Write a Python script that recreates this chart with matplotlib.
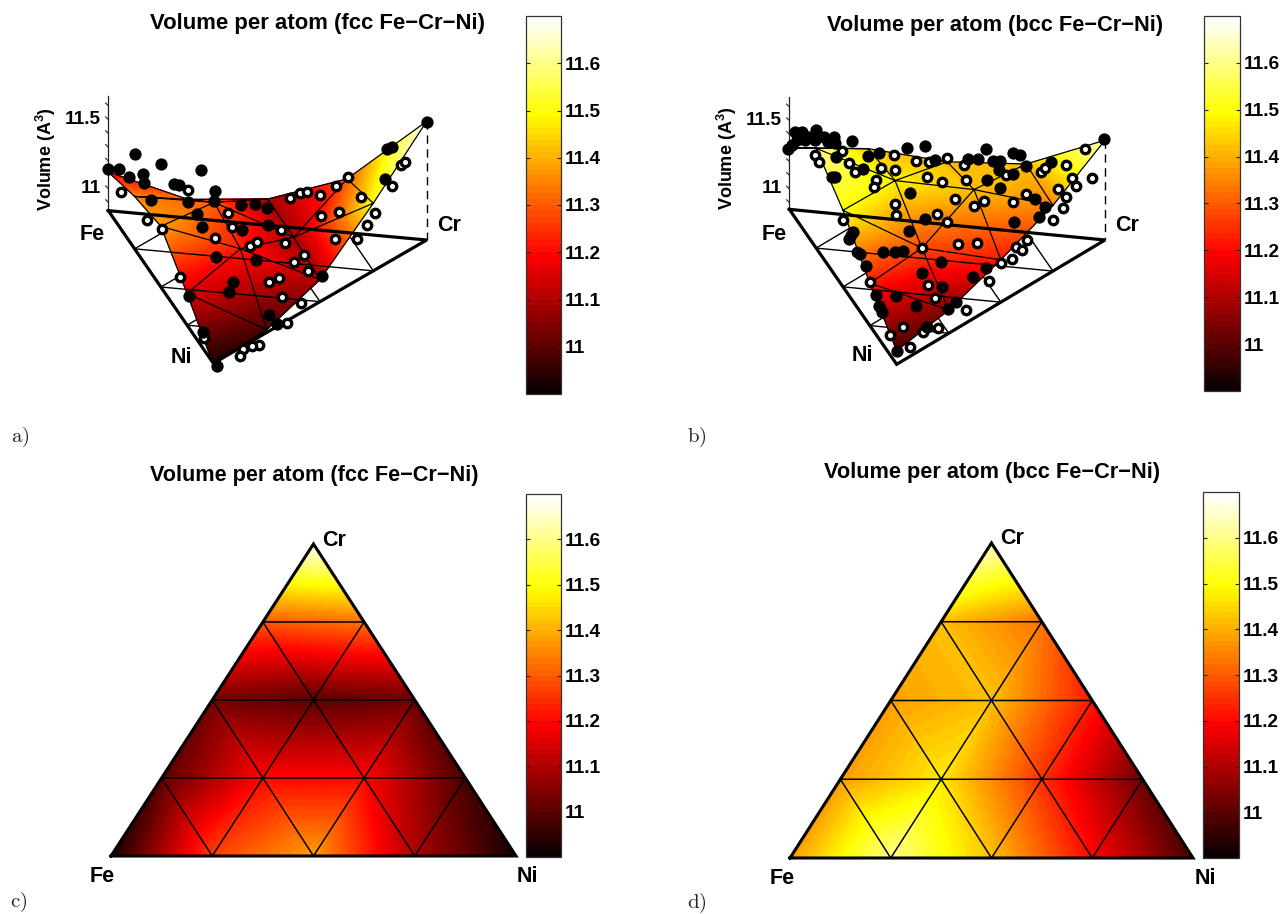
import numpy as np
import matplotlib
matplotlib.use("Agg")
import matplotlib.pyplot as plt
import matplotlib.tri as mtri
from matplotlib.cm import ScalarMappable
from matplotlib.colors import Normalize

plt.rcParams['font.family'] = ['Liberation Sans', 'DejaVu Sans']
plt.rcParams['mathtext.fontset'] = 'custom'
plt.rcParams['mathtext.bf'] = 'Liberation Sans:bold'
plt.rcParams['mathtext.rm'] = 'Liberation Sans:bold'

W, H = 1286, 914
VMIN, VMAX = 10.9, 11.7
TICKS = [11, 11.1, 11.2, 11.3, 11.4, 11.5, 11.6]
TICKLABELS = ['11', '11.1', '11.2', '11.3', '11.4', '11.5', '11.6']
TITLE_FCC = 'Volume per atom (fcc Fe\u2212Cr\u2212Ni)'
TITLE_BCC = 'Volume per atom (bcc Fe\u2212Cr\u2212Ni)'

# Node values, rows of constant Cr (0, 25, 50, 75, 100 %), going Fe -> Ni in each row
a_height = [11.12, 11.22, 11.28, 11.07, 10.83,
            10.975, 11.23, 11.17, 10.86,
            11.03, 11.03, 11.00,
            11.23, 11.33,
            11.70]
a_colour = [11.20, 11.35, 11.38, 11.15, 10.92,
            11.32, 11.30, 11.22, 10.98,
            11.08, 11.10, 11.10,
            11.30, 11.50,
            11.69]
b_height = [11.30, 11.58, 11.41, 11.16, 10.95,
            11.35, 11.40, 11.19, 11.02,
            11.31, 11.39, 11.16,
            11.35, 11.33,
            11.58]
b_colour = [11.42, 11.60, 11.50, 11.22, 10.98,
            11.42, 11.48, 11.28, 11.05,
            11.42, 11.42, 11.22,
            11.42, 11.35,
            11.65]
c_values = [10.92, 11.27, 11.38, 11.10, 10.92,
            11.00, 11.20, 11.20, 10.98,
            11.03, 11.00, 11.02,
            11.30, 11.33,
            11.69]
d_values = [11.38, 11.60, 11.42, 11.20, 10.98,
            11.38, 11.47, 11.25, 11.02,
            11.38, 11.42, 11.22,
            11.42, 11.33,
            11.65]

# Scatter points as read in the projected view of each 3D panel
a_filled_x = [323, 358, 388, 404, 429, 431, 483, 454, 522, 537, 604, 565, 645, 642, 591, 605, 722, 764, 801, 805, 726, 647, 767, 700, 687, 568, 965, 808, 830, 610, 650, 1280, 1162, 1176, 1155]
a_filled_y = [266, 266, 291, 222, 283, 310, 252, 360, 311, 316, 269, 366, 333, 362, 402, 440, 374, 371, 385, 436, 449, 530, 541, 606, 637, 648, 587, 704, 731, 757, 858, 125, 207, 200, 297]
a_open_x = [363, 563, 442, 485, 685, 697, 646, 751, 772, 843, 856, 911, 882, 925, 1004, 1072, 963, 1017, 961, 871, 899, 922, 1007, 1043, 1083, 1125, 1101, 1176, 1203, 1215, 541, 806, 837, 847, 903, 862, 777, 755, 728, 720, 612]
a_open_y = [337, 331, 419, 447, 398, 440, 473, 497, 485, 450, 490, 524, 545, 574, 477, 476, 409, 396, 344, 355, 339, 336, 317, 292, 350, 398, 435, 317, 256, 245, 592, 606, 595, 651, 668, 730, 796, 798, 808, 827, 775]
b_filled_x = [265, 285, 305, 325, 347, 372, 403, 455, 290, 315, 345, 385, 405, 275, 622, 674, 857, 940, 960, 505, 538, 407, 705, 805, 835, 880, 900, 978, 1054, 1213, 490, 395, 405, 898, 940, 860, 900, 1006, 1035, 1018, 941, 630, 675, 626, 460, 447, 480, 548, 585, 608, 722, 498, 665, 858, 820, 725, 527, 588, 648, 537, 547, 768, 745, 680, 592]
b_filled_y = [208, 155, 155, 170, 150, 172, 172, 183, 180, 180, 180, 185, 188, 195, 204, 198, 206, 220, 225, 227, 220, 232, 240, 238, 236, 243, 243, 257, 245, 178, 268, 290, 292, 270, 283, 300, 325, 356, 382, 410, 427, 339, 417, 453, 455, 477, 522, 516, 517, 513, 545, 558, 578, 565, 592, 620, 645, 647, 679, 677, 695, 666, 687, 740, 814]
b_open_x = [427, 346, 356, 447, 465, 543, 583, 584, 647, 686, 740, 793, 681, 725, 527, 523, 797, 918, 1023, 1035, 1097, 1155, 1115, 1175, 1127, 1075, 1097, 1090, 978, 938, 853, 822, 765, 585, 587, 710, 742, 428, 1058, 453, 470, 665, 775, 830, 980, 947, 965, 936, 903, 510, 685, 868, 705, 797, 608, 569, 668, 714, 630]
b_open_y = [213, 226, 245, 248, 276, 263, 226, 271, 242, 247, 234, 256, 291, 305, 300, 320, 301, 285, 277, 265, 255, 208, 295, 295, 317, 327, 350, 383, 343, 367, 364, 378, 357, 372, 406, 402, 425, 420, 420, 465, 515, 505, 491, 490, 481, 502, 510, 538, 548, 606, 614, 603, 655, 689, 742, 765, 757, 744, 800]


def px_axes(x0, y0, x1, y1):
    """Axes covering a rectangle given in reference pixels (y downwards)."""
    return fig.add_axes([x0 / W, 1 - y1 / H, (x1 - x0) / W, (y1 - y0) / H])


def ternary_mesh():
    cr, ni = [], []
    index = {}
    k = 0
    for r in range(5):
        for i in range(5 - r):
            cr.append(r / 4)
            ni.append(i / 4)
            index[(r, i)] = k
            k += 1
    tris = []
    for r in range(4):
        for i in range(4 - r):
            tris.append((index[(r, i)], index[(r, i + 1)], index[(r + 1, i)]))
            if i < 3 - r:
                tris.append((index[(r, i + 1)], index[(r + 1, i + 1)], index[(r + 1, i)]))
    return np.array(cr), np.array(ni), np.array(tris)


CR, NI, TRIS = ternary_mesh()
FE = 1 - CR - NI
CMAP = plt.get_cmap('hot', 64)
NORM = Normalize(VMIN, VMAX)
MESH = mtri.Triangulation(NI + CR / 2, CR, TRIS)
REFINER = mtri.UniformTriRefiner(MESH)


def refined(values, subdiv=5):
    arr = np.asarray(values, float)
    return REFINER.refine_field(arr, triinterpolator=mtri.LinearTriInterpolator(MESH, arr), subdiv=subdiv)


def colourbar(box):
    cax = px_axes(*box)
    cb = fig.colorbar(ScalarMappable(norm=NORM, cmap=CMAP), cax=cax)
    cb.set_ticks(TICKS, labels=TICKLABELS)
    cax.tick_params(axis='y', which='both', direction='in', length=3, width=0.8,
                    left=True, right=True, labelsize=13.7, pad=3, color='#222222')
    for t in cax.get_yticklabels():
        t.set_fontweight('bold')
    cb.outline.set_linewidth(0.9)
    cb.outline.set_edgecolor('#333333')


def panel3d(offset, size, corners, z0, scale, height, colour, filled, opened, letters):
    ax = px_axes(offset[0], offset[1], offset[0] + size[0], offset[1] + size[1])
    ax.set_xlim(0, size[0] * 3)
    ax.set_ylim(size[1] * 3, 0)
    ax.axis('off')
    fe_c, cr_c, ni_c = np.array(corners, float)

    def base(fe, cr, ni):
        return (fe * fe_c[0] + cr * cr_c[0] + ni * ni_c[0],
                fe * fe_c[1] + cr * cr_c[1] + ni * ni_c[1])

    def up(fe, cr, ni, vol):
        x, y = base(fe, cr, ni)
        return x, y - (np.asarray(vol) - z0) * scale

    # base grid: most lines stay behind the surface, the two rear Fe-Cr parallels show in front
    for q in (0.25, 0.5, 0.75):
        p1 = base(1 - q, q, 0.0)
        p2 = base(1 - q, 0.0, q)
        ax.plot([p1[0], p2[0]], [p1[1], p2[1]], color='k', lw=1.0, zorder=1, clip_on=False)
        p1 = base(q, 1 - q, 0.0)
        p2 = base(0.0, 1 - q, q)
        ax.plot([p1[0], p2[0]], [p1[1], p2[1]], color='k', lw=1.0, zorder=1, clip_on=False)
        p1 = base(q, 0.0, 1 - q)
        p2 = base(0.0, q, 1 - q)
        ax.plot([p1[0], p2[0]], [p1[1], p2[1]], color='k', lw=1.0, zorder=3 if q > 0.25 else 1, clip_on=False)

    # coloured surface
    ref_tri, ref_col = refined(colour)
    _, ref_h = refined(height)
    ref_cr = ref_tri.y
    ref_ni = ref_tri.x - ref_cr / 2
    ref_fe = 1 - ref_cr - ref_ni
    sx, sy = up(ref_fe, ref_cr, ref_ni, ref_h)
    surf = mtri.Triangulation(sx, sy, ref_tri.triangles)
    ax.tripcolor(surf, ref_col, shading='gouraud', cmap=CMAP, norm=NORM, zorder=2, clip_on=False)
    nx, ny = up(FE, CR, NI, height)
    ax.triplot(mtri.Triangulation(nx, ny, TRIS), color='k', lw=0.9, zorder=3, clip_on=False)

    # outer base triangle
    tx = [fe_c[0], cr_c[0], ni_c[0], fe_c[0]]
    ty = [fe_c[1], cr_c[1], ni_c[1], fe_c[1]]
    ax.plot(tx, ty, color='k', lw=2.3, zorder=3, solid_joinstyle='miter', clip_on=False)

    # dashed riser at Cr
    cx, cy = up(0.0, 1.0, 0.0, height[-1])
    ax.plot([cx, cr_c[0]], [cy, cr_c[1]], color='k', lw=1.0, ls=(0, (6, 4)), zorder=1, clip_on=False)

    # volume axis at Fe with minor ticks
    ax.plot([fe_c[0], fe_c[0]], [fe_c[1], 48 if offset[0] == 0 else 52], color='#222222', lw=0.9, zorder=1)
    for v in np.arange(10.9, 11.75, 0.1):
        y = fe_c[1] - (v - z0) * scale
        if y > 48:
            ax.plot([fe_c[0] - 8, fe_c[0]], [y - 8, y], color='#222222', lw=0.8, zorder=1)
    for v, lab in ((11.0, '11'), (11.5, '11.5')):
        y = fe_c[1] - (v - z0) * scale
        ax.text(fe_c[0] - 22, y + 0, lab, ha='right', va='center', fontsize=13.7, fontweight='bold')
    ax.text(fe_c[0] - 187, fe_c[1] - 155, r'Volume (A$^{\mathbf{3}}$)', rotation=90, ha='center', va='center',
            fontsize=13, fontweight='bold')

    # data points
    ax.scatter(opened[0], opened[1], s=37, facecolor='white', edgecolor='k', linewidth=2.4, zorder=4, clip_on=False)
    ax.scatter(filled[0], filled[1], s=78, color='k', linewidth=0, zorder=4, clip_on=False)
    for (lab, lx, ly) in letters:
        ax.text(lx, ly, lab, ha='center', va='center', fontsize=15.5, fontweight='bold', zorder=5)


def panel2d(box, values, letters):
    ax = px_axes(*box)
    ax.set_xlim(0, 1)
    ax.set_ylim(0, 1)
    ax.axis('off')
    ref_tri, ref_col = refined(values, subdiv=6)
    ax.tripcolor(ref_tri, ref_col, shading='gouraud', cmap=CMAP, norm=NORM, zorder=1, clip_on=False)
    ax.triplot(MESH, color='k', lw=1.1, zorder=2, clip_on=False)
    ax.plot([0, 1, 0.5, 0], [0, 0, 1, 0], color='k', lw=2.2, zorder=3, solid_joinstyle='miter', clip_on=False)
    for lab, lx, ly in letters:
        fig.text(lx / W, 1 - ly / H, lab, ha='center', va='center', fontsize=15.5, fontweight='bold')


fig = plt.figure(figsize=(W / 100, H / 100), dpi=100)

panel3d((0, 80), (500, 300), [(325, 392), (1280, 480), (640, 850)], 10.84, 414,
        a_height, a_colour, (a_filled_x, a_filled_y), (a_open_x, a_open_y),
        [('Fe', 276, 463), ('Ni', 543, 832), ('Cr', 1347, 437)])
panel3d((700, 80), (500, 300), [(268, 388), (1215, 480), (590, 853)], 10.85, 410,
        b_height, b_colour, (b_filled_x, b_filled_y), (b_open_x, b_open_y),
        [('Fe', 222, 463), ('Ni', 486, 826), ('Cr', 1281, 437)])
panel2d((111, 544, 516, 856), c_values, [('Fe', 102, 876), ('Ni', 527, 877), ('Cr', 334, 541)])
panel2d((790, 543, 1193, 858), d_values, [('Fe', 782, 878), ('Ni', 1205, 878), ('Cr', 1012, 539)])

colourbar((526, 16, 561, 394))
colourbar((1204, 16, 1240, 391))
colourbar((526, 494, 561, 857))
colourbar((1203, 492, 1239, 858))

for txt, x, y, fs in ((TITLE_FCC, 317, 23, 15.9), (TITLE_BCC, 995, 25, 15.7),
                      (TITLE_FCC, 314, 475, 15.55), (TITLE_BCC, 992, 473, 15.7)):
    fig.text(x / W, 1 - y / H, txt, ha='center', va='center', fontsize=fs, fontweight='bold')

for lab, x, y in (('a)', 20, 437), ('b)', 697, 437), ('c)', 19, 902), ('d)', 697, 903)):
    fig.text(x / W, 1 - y / H, r'$\mathrm{%s}$' % lab, ha='center', va='center', fontsize=15, color='#222222',
             math_fontfamily='cm')

fig.savefig('out.png', dpi=100)
